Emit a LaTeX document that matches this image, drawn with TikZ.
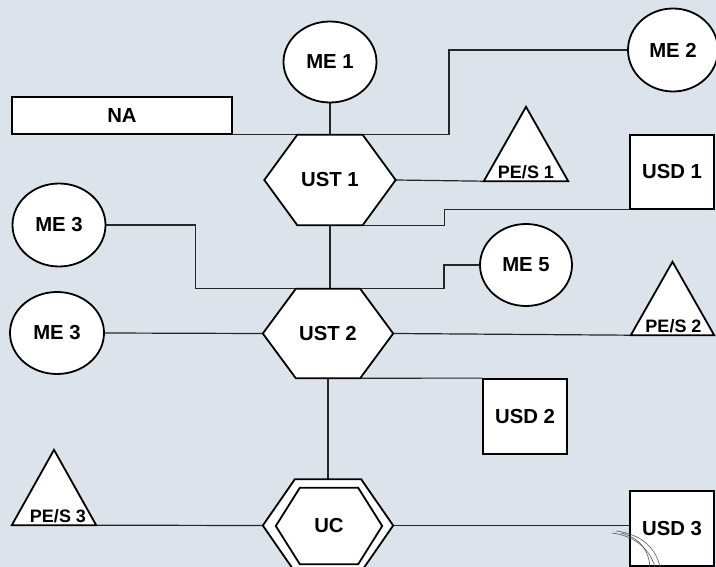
\documentclass[tikz,border=0pt]{standalone}
\usepackage{fontspec}
\setmainfont{Liberation Sans}
\usetikzlibrary{shapes.geometric,calc}
\pgfdeclarelayer{back}
\pgfdeclarelayer{bg}
\pgfsetlayers{back,bg,main}
\definecolor{paper}{RGB}{221,227,235}
\newcommand\myhex[2]{\draw[outl] (#1.west) -- ([xshift=#2]#1.north west) -- ([xshift=-#2]#1.north east) -- (#1.east) -- ([xshift=-#2]#1.south east) -- ([xshift=#2]#1.south west) -- cycle;}
\newcommand\mytri[1]{\draw[outl] (#1.south west) -- (#1.north) -- (#1.south east) -- cycle;}
\tikzset{
  lbl/.style={font=\bfseries\fontsize{20.3}{22}\selectfont},
  smalllbl/.style={font=\bfseries\fontsize{18}{20}\selectfont},
  outl/.style={draw=black, line width=1.8pt, fill=white, line join=miter},
  ell/.style={ellipse, outl, inner sep=0pt, lbl},
  boxn/.style={rectangle, outl, inner sep=0pt, lbl},
  frame/.style={rectangle, inner sep=0pt, draw=none},
  conn/.style={draw=black!85, line width=1.2pt},
  scrib/.style={draw=black!65, line width=0.6pt},
}
\begin{document}
\begin{tikzpicture}[x=1pt,y=-1pt]
\useasboundingbox (0,0) rectangle (716,567);
\begin{pgfonlayer}{back}
\fill[paper] (0,0) rectangle (716,567);
\end{pgfonlayer}

% circles and boxes
\node[ell, minimum width=93pt, minimum height=81pt] (ME1) at (330,62) {ME 1};
\node[ell, minimum width=90pt, minimum height=83pt] (ME2) at (673,50) {ME 2};
\node[ell, minimum width=93pt, minimum height=83pt] (ME3a) at (59,225) {ME 3};
\node[ell, minimum width=94pt, minimum height=82pt] (ME3b) at (57,333) {ME 3};
\node[ell, minimum width=92pt, minimum height=82pt] (ME5) at (526,265) {ME 5};
\node[boxn, minimum width=220pt, minimum height=37pt] (NA) at (122,115.5) {NA};
\node[boxn, minimum width=84pt, minimum height=74pt] (USD1) at (672,172) {USD 1};
\node[boxn, minimum width=84pt, minimum height=75pt] (USD2) at (525,416.5) {USD 2};
\node[boxn, minimum width=84pt, minimum height=75pt] (USD3) at (672,528.5) {USD 3};

% hexagon frames
\node[frame, minimum width=131pt, minimum height=90pt] (UST1) at (330,180) {};
\node[frame, minimum width=130pt, minimum height=89pt] (UST2) at (328,333.5) {};
\node[frame, minimum width=130pt, minimum height=92pt] (UCo) at (328,525.5) {};
\node[frame, minimum width=106pt, minimum height=76pt] (UCi) at (329,526) {};
\myhex{UST1}{33pt}
\myhex{UST2}{33pt}
\myhex{UCo}{32pt}
\myhex{UCi}{24pt}
\node[lbl] at (UST1) {UST 1};
\node[lbl] at (UST2) {UST 2};
\node[lbl] at (UCi) {UC};

% triangle frames
\node[frame, minimum width=84pt, minimum height=74pt] (PES1) at (526,144) {};
\node[frame, minimum width=83pt, minimum height=73pt] (PES2) at (672.5,298.5) {};
\node[frame, minimum width=84pt, minimum height=75pt] (PES3) at (54,487.5) {};
\mytri{PES1}
\mytri{PES2}
\mytri{PES3}
\node[smalllbl, anchor=base] at ($(PES1.south)+(0,-2.5)$) {PE/S 1};
\node[smalllbl, anchor=base] at ($(PES2.south)+(1,-2.5)$) {PE/S 2};
\node[smalllbl, anchor=base] at ($(PES3.south)+(4,-2.5)$) {PE/S 3};

% connectors
\begin{pgfonlayer}{bg}
\draw[conn] (ME1.south) -- (UST1.north);
\draw[conn] (NA.south east) -- ++(216,0) |- (ME2.west);
\draw[conn] (UST1.east) -- (PES1.south west);
\draw[conn] (USD1.south west) -- ++(-185,0) |- ([xshift=-33pt]UST1.south east);
\draw[conn] (UST1.south) -- (UST1.south |- UST2.north);
\coordinate (j1) at ($(UST2.north)+(116,0)$);
\draw[conn] (ME3a.east) -- ++(89,0) |- (j1) |- (ME5.west);
\draw[conn] (ME3b.east) -- (UST2.west);
\draw[conn] (UST2.east) -- (PES2.south west);
\draw[conn] ([xshift=-33pt]UST2.south east) -- (USD2.north west);
\draw[conn] (UST2.south) -- (UCo.north);
\draw[conn] (PES3.south east) -- (UCo.west);
\draw[conn] (UCo.east) -- (UCo.east -| USD3.west);
\end{pgfonlayer}

% pen scribble near USD 3
\draw[scrib] (612,533) .. controls (636,536) and (650,550) .. (655,567);
\draw[scrib] (616,531) .. controls (641,534) and (656,548) .. (660,567);
\draw[scrib] (621,533) .. controls (641,538) and (649,552) .. (650,567);
\end{tikzpicture}
\end{document}
